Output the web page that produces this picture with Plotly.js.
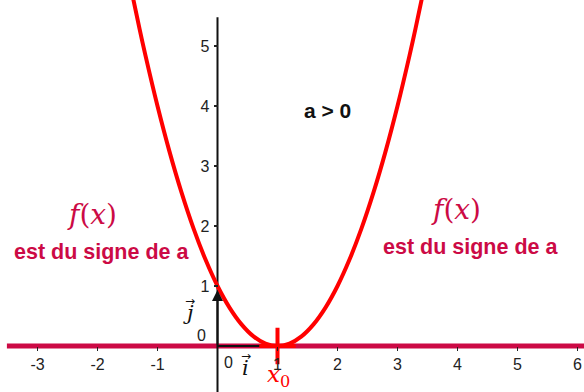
<!DOCTYPE html>
<html>
<head>
<meta charset="utf-8">
<script src="https://cdn.plot.ly/plotly-3.0.1.min.js"></script>
<style>html,body{margin:0;padding:0;background:#fff;}#chart{width:584px;height:392px;}</style>
</head>
<body>
<div id="chart"></div>
<script>
// Data: parabola f(x) = (x-1)^2 with a > 0
const curveX = [-1.45, -1.3, -1.2, -1.0, -0.8, -0.6, -0.4, -0.2, 0.0, 0.2, 0.4, 0.6, 0.8, 1.0, 1.2, 1.4, 1.6, 1.8, 2.0, 2.2, 2.4, 2.6, 2.8, 3.0, 3.2, 3.3, 3.45];
const curveY = [6.0, 5.29, 4.84, 4.0, 3.24, 2.56, 1.96, 1.44, 1.0, 0.64, 0.36, 0.16, 0.04, 0.0, 0.04, 0.16, 0.36, 0.64, 1.0, 1.44, 1.96, 2.56, 3.24, 4.0, 4.84, 5.29, 6.0];
const xTickVals = [-3, -2, -1, 1, 2, 3, 4, 5, 6];
const xTickText = ["-3", "-2", "-1", "1", "2", "3", "4", "5", "6"];
const yTickVals = [1, 2, 3, 4, 5];
const yTickText = ["1", "2", "3", "4", "5"];
const rootX = [1];
const rootY = [0];
const vecIX = [0, 1], vecIY = [0, 0];
const vecJ = {x: 0, y: 1};
const signText = "est du signe de a";
const fxText = "<i>f</i>(<i>x</i>)";
const aText = "<b>a &gt; 0</b>";

const crimson = "#CC0A45";
const red = "#FF0000";
const sans = "Liberation Sans, Arial, sans-serif";
const serif = "DejaVu Serif, Liberation Serif, serif";

const traces = [
  {x: vecIX, y: vecIY, mode: "lines", line: {color: "#111", width: 2},
   hoverinfo: "skip", showlegend: false},
  {x: curveX, y: curveY, mode: "lines", line: {color: red, width: 4, shape: "spline"},
   hoverinfo: "skip", showlegend: false},
  {x: rootX, y: rootY, mode: "markers",
   marker: {symbol: "cross-thin", size: 26, color: red, line: {color: red, width: 4}},
   hoverinfo: "skip", showlegend: false}
];

const xr = [-217.5/60, (584-217.5)/60];
const yr = [(346-392)/60, 346/60];
const tickFont = {family: sans, size: 16, color: "#222"};

const layout = {
  width: 584, height: 392,
  margin: {l: 0, r: 0, t: 0, b: 0, pad: 0},
  paper_bgcolor: "#fff", plot_bgcolor: "#fff",
  showlegend: false,
  xaxis: {range: xr, anchor: "free", position: (392-346)/392,
    tickmode: "array", tickvals: xTickVals, ticktext: xTickText, ticks: "outside", ticklen: 4, tickwidth: 1.5, tickcolor: "#222",
    tickfont: tickFont,
    showgrid: false, zeroline: false, showline: false, fixedrange: true},
  yaxis: {range: yr, anchor: "free", position: 217.5/584,
    tickmode: "array", tickvals: yTickVals, ticktext: yTickText, ticks: "outside", ticklen: 4, tickwidth: 1.5, tickcolor: "#222",
    tickfont: tickFont, ticklabelstandoff: 1,
    showgrid: false, zeroline: false, showline: false, fixedrange: true},
  shapes: [
    {type: "line", layer: "below", xref: "x", yref: "y", x0: -3.51, x1: xr[1], y0: 0, y1: 0,
     line: {color: crimson, width: 5}},
    {type: "line", layer: "below", xref: "x", yref: "y", x0: 0, x1: 0, y0: yr[0], y1: 5.48,
     line: {color: "#111", width: 2}}
  ],
  annotations: [
    {x: vecJ.x, y: vecJ.y, ax: 0, ay: 0, axref: "x", ayref: "y", xref: "x", yref: "y",
     showarrow: true, arrowhead: 2, arrowsize: 1.1, arrowwidth: 2, arrowcolor: "#111", standoff: 4, text: ""},
    {x: -2.09, y: 2.2, text: fxText, showarrow: false, font: {family: serif, size: 28, color: crimson}},
    {x: 3.975, y: 2.27, text: fxText, showarrow: false, font: {family: serif, size: 28, color: crimson}},
    {x: -1.94, y: 1.57, text: "<b>" + signText + "</b>", showarrow: false, font: {family: sans, size: 21.5, color: crimson}},
    {x: 4.21, y: 1.65, text: "<b>" + signText + "</b>", showarrow: false, font: {family: sans, size: 21.5, color: crimson}},
    {x: 1.83, y: 3.93, text: aText, showarrow: false, font: {family: sans, size: 21, color: "#111"}},
    {x: 1.02, y: -0.5, text: "<i>x</i><sub>0</sub>", showarrow: false, font: {family: serif, size: 23, color: red}},
    {x: 0.46, y: -0.36, text: "<i>i</i>", showarrow: false, font: {family: serif, size: 21, color: "#111"}},
    {x: 0.47, y: -0.17, text: "\u2192", showarrow: false, font: {family: "DejaVu Sans", size: 12, color: "#111"}},
    {x: -0.49, y: 0.55, text: "<i>j</i>", showarrow: false, font: {family: serif, size: 21, color: "#111"}},
    {x: -0.46, y: 0.75, text: "\u2192", showarrow: false, font: {family: "DejaVu Sans", size: 12, color: "#111"}},
    {x: 0.175, y: -0.27, text: "0", showarrow: false, font: tickFont},
    {x: -0.275, y: 0.17, text: "0", showarrow: false, font: tickFont}
  ]
};

Plotly.newPlot("chart", traces, layout, {staticPlot: true, displayModeBar: false});
</script>
</body>
</html>
